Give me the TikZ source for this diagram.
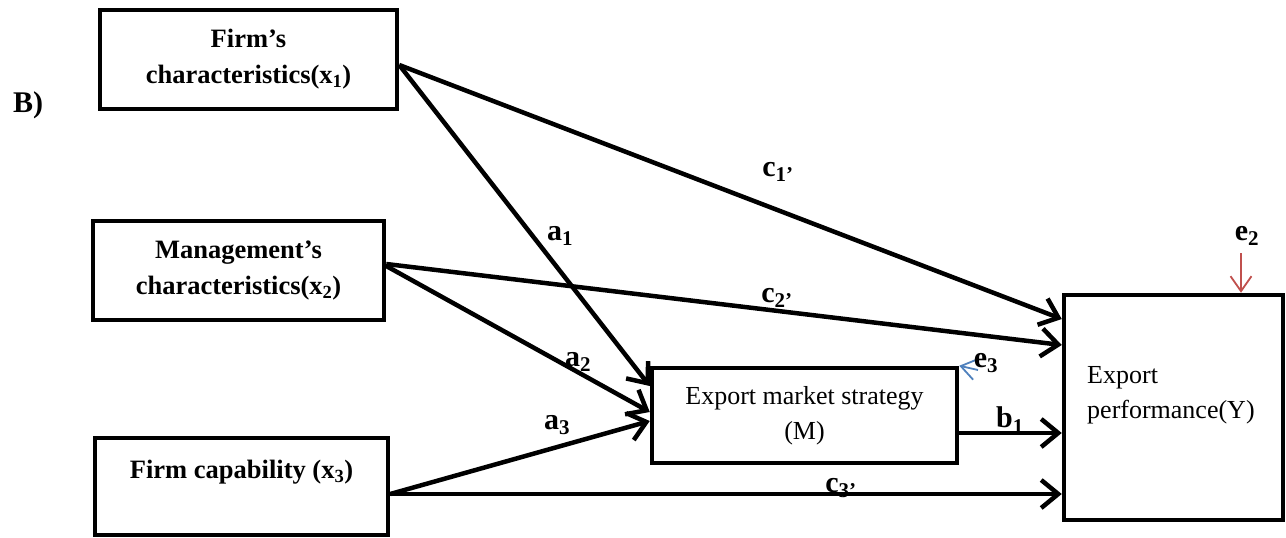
\documentclass[tikz,border=0pt]{standalone}
\usepackage{fontspec}
\setmainfont{Liberation Serif}
\usetikzlibrary{arrows.meta,calc}
\definecolor{errred}{HTML}{C0504D}
\definecolor{errblue}{HTML}{4F81BD}
\begin{document}
\begin{tikzpicture}[x=1pt,y=-1pt,
  box/.style={draw, line width=4.5pt, inner sep=0pt},
  btxt/.style={font=\fontsize{26.5}{36}\selectfont\bfseries, align=center},
  rtxt/.style={font=\fontsize{26}{35}\selectfont},
  lbl/.style={font=\fontsize{30}{30}\selectfont\bfseries, inner sep=0pt},
  conn/.style={line width=4.5pt, -{Straight Barb[length=17pt,width=28pt]}},
  errarrow/.style={line width=1.8pt, -{Straight Barb[length=15pt,width=21pt]}}]
\useasboundingbox (0,0) rectangle (1286,538);

% variable boxes
\node[box, btxt, minimum width=297pt, minimum height=99pt] (x1) at (248.5,59.5)
  {Firm’s\\characteristics(x\textsubscript{1})};
\node[box, btxt, minimum width=291pt, minimum height=99pt] (x2) at (238.5,270.5)
  {Management’s\\characteristics(x\textsubscript{2})};
\node[box, minimum width=293pt, minimum height=97pt] (x3) at (241.5,486.5) {};
\node[btxt] (x3t) at (241.5,472) {Firm capability (x\textsubscript{3})};
\node[box, rtxt, align=center, minimum width=305pt, minimum height=95pt] (M) at (804.5,415.5)
  {Export market strategy\\(M)};
\node[box, minimum width=219pt, minimum height=225pt] (Y) at (1173.5,407.5) {};
\node[rtxt, align=left, anchor=west, inner sep=0pt] (Yt) at (1087,395)
  {Export\\performance(Y)};

% paths
\draw[conn] ([yshift=-5.5pt]x1.east) -- ([yshift=88.5pt]Y.west);
\draw[conn] ([yshift=-5.5pt]x1.east) -- ([yshift=29.5pt]M.west);
\draw[conn] ([yshift=6.5pt]x2.east) -- ([yshift=62.5pt]Y.west);
\draw[conn] ([yshift=4.5pt]x2.east) -- ([yshift=3.5pt]M.west);
\draw[conn] ([yshift=-7.5pt]x3.east) -- ([yshift=-5.5pt]M.west);
\draw[conn] ([yshift=-7.5pt]x3.east) -- ([yshift=-86.5pt]Y.west);
\draw[conn] ([yshift=-17.5pt]M.east) -- ([yshift=-25.5pt]Y.west);

% error terms
\coordinate (e2s) at (1241,253);
\draw[errarrow, errred] (e2s) -- (e2s |- Y.north);
\coordinate (e3s) at (978,370);
\draw[errarrow, errblue] (e3s) -- (M.north east);

% labels
\node[lbl] (B) at (28,105) {B)};
\node[lbl] (la1) at (560,236) {a\textsubscript{1}};
\node[lbl] (lc1) at (778,172) {c\textsubscript{1’}};
\node[lbl] (lc2) at (777,298) {c\textsubscript{2’}};
\node[lbl] (la2) at (578,362) {a\textsubscript{2}};
\node[lbl] (la3) at (557,425) {a\textsubscript{3}};
\node[lbl] (lb1) at (1010,420) {b\textsubscript{1}};
\node[lbl] (lc3) at (841,488) {c\textsubscript{3’}};
\node[lbl] (le2) at (1247,236) {e\textsubscript{2}};
\node[lbl] (le3) at (986,363) {e\textsubscript{3}};
\end{tikzpicture}
\end{document}
